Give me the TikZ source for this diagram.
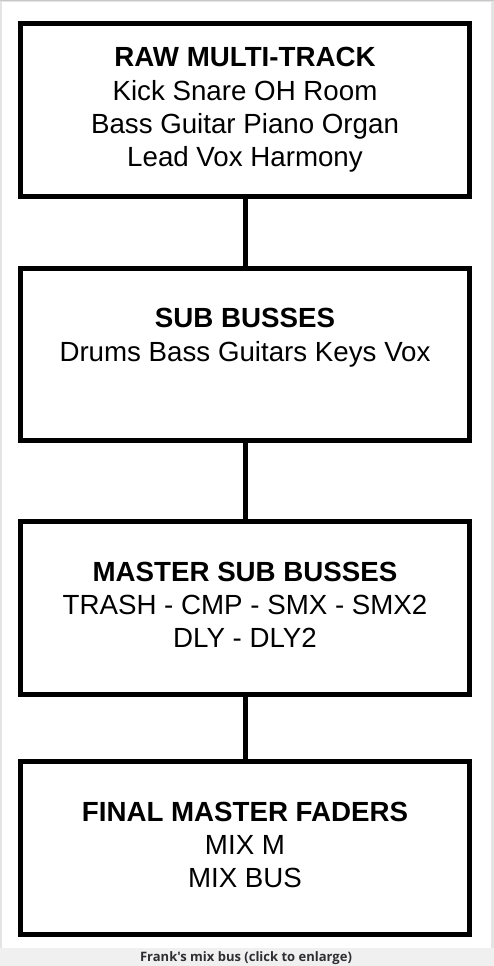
\documentclass[tikz,border=0pt]{standalone}
\usepackage{fontspec}
\setmainfont{Liberation Sans}
\newfontfamily\capfont{Open Sans}[Ligatures=TeXOff]
\definecolor{stripgray}{HTML}{F0F0F0}
\definecolor{edgegray}{HTML}{E4E4E4}
\definecolor{topgray}{HTML}{C8C8C8}
\definecolor{captext}{HTML}{2E2E33}
\begin{document}
\begin{tikzpicture}[x=1pt,y=-1pt,
  stage/.style={draw=black, line width=5pt, fill=white,
    minimum width=448.4pt, minimum height=172.5pt,
    inner sep=0pt, align=center,
    font=\fontsize{27.7}{33.3}\selectfont},
  link/.style={draw=black, line width=5pt},
  caption/.style={font=\capfont\bfseries\fontsize{13}{15}\selectfont, text=captext, inner sep=0pt}]
\useasboundingbox (0,0) rectangle (494,966);
% frame and caption strip
\fill[stripgray] (0,0) rectangle (494,966);
\fill[edgegray] (0,0) rectangle (494,948);
\fill[white] (1.5,2) rectangle (491,948);
\fill[topgray] (0,0) rectangle (494,1.5);
% stages
\node[stage] (raw) at (245,110) {\strut\textbf{RAW MULTI-TRACK}\\\strut Kick Snare OH Room\\\strut Bass Guitar Piano Organ\\\strut Lead Vox Harmony};
\node[stage] (sub) at (245,354.5) {\strut\textbf{SUB BUSSES}\\\strut Drums Bass Guitars Keys Vox\\\strut};
\node[stage] (msub) at (245,608) {\strut\textbf{MASTER SUB BUSSES}\\\strut TRASH - CMP - SMX - SMX2\\\strut DLY - DLY2};
\node[stage] (final) at (245,847.9) {\strut\textbf{FINAL MASTER FADERS}\\\strut MIX M\\\strut MIX BUS};
% connectors
\draw[link] (raw.south) -- (sub.north);
\draw[link] (sub.south) -- (msub.north);
\draw[link] (msub.south) -- (final.north);
% caption
\node[caption, anchor=base] (cap) at (246,961) {Frank's mix bus (click to enlarge)};
\end{tikzpicture}
\end{document}
